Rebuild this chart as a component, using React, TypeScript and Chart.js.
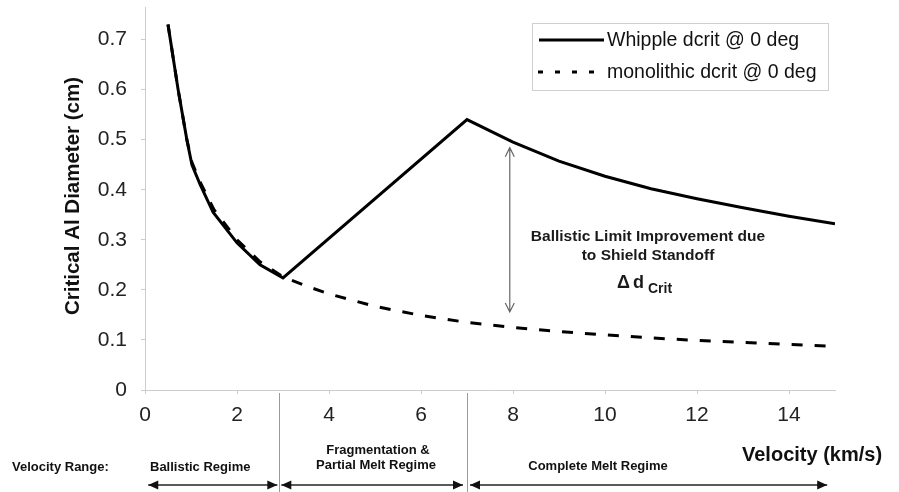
import React, { useEffect, useRef } from 'react';
import { Chart, registerables } from 'chart.js';

Chart.register(...registerables);

// Velocity (km/s) and critical Al diameter (cm)
const whippleVelocity = [0.5, 0.72, 0.91, 1.02, 1.2, 1.48, 2.0, 2.5, 3.0, 7.0, 8, 9, 10, 11, 12, 13, 14, 15];
const whippleDcrit = [0.73, 0.6, 0.5, 0.45, 0.41, 0.355, 0.294, 0.25, 0.224, 0.54, 0.495, 0.457, 0.427, 0.402, 0.382, 0.364, 0.347, 0.332];

const monoVelocity = [0.5, 0.72, 0.91, 1.02, 1.2, 1.5, 2.0, 2.5, 3.0, 3.5, 4, 5, 6, 7, 8, 9, 10, 11, 12, 13, 14, 15];
const monoDcrit = [0.73, 0.6, 0.5, 0.455, 0.415, 0.36, 0.3, 0.256, 0.226, 0.208, 0.192, 0.167, 0.149, 0.135, 0.125, 0.117, 0.11, 0.104, 0.099, 0.095, 0.091, 0.087];

const seriesLabels = ['Whipple dcrit @ 0 deg', 'monolithic dcrit @ 0 deg'];
const xTicks = [0, 2, 4, 6, 8, 10, 12, 14];
const yTicks = [0, 0.1, 0.2, 0.3, 0.4, 0.5, 0.6, 0.7];

const yTitle = 'Critical Al Diameter (cm)';
const xTitle = 'Velocity (km/s)';
const rangeLabel = 'Velocity Range:';
const regimeBounds = [0.07, 2.92, 7.0, 14.83];
const annotationLines = ['Ballistic Limit Improvement due', 'to Shield Standoff'];

const FONT = '"Liberation Sans", Arial, Helvetica, sans-serif';

export default function App() {
  const ref = useRef<HTMLCanvasElement>(null);

  useEffect(() => {
    document.body.style.margin = '0';
    const canvas = ref.current!;

    const overlay = {
      id: 'overlay',
      afterDraw(chart: any) {
        const ctx: CanvasRenderingContext2D = chart.ctx;
        const xs = chart.scales.x;
        const ys = chart.scales.y;
        const px = (v: number) => xs.getPixelForValue(v);
        const py = (v: number) => ys.getPixelForValue(v);
        ctx.save();

        // Legend
        ctx.fillStyle = '#ffffff';
        ctx.fillRect(532, 23, 296, 67);
        ctx.strokeStyle = '#cfcfcf';
        ctx.lineWidth = 1;
        ctx.strokeRect(532.5, 23.5, 296, 67);
        ctx.strokeStyle = '#000';
        ctx.lineWidth = 3;
        ctx.setLineDash([]);
        ctx.beginPath();
        ctx.moveTo(539, 40);
        ctx.lineTo(604, 40);
        ctx.stroke();
        ctx.setLineDash([5, 12]);
        ctx.beginPath();
        ctx.moveTo(538, 72);
        ctx.lineTo(604, 72);
        ctx.stroke();
        ctx.setLineDash([]);
        ctx.fillStyle = '#111';
        ctx.font = `19.5px ${FONT}`;
        ctx.textAlign = 'left';
        ctx.textBaseline = 'middle';
        ctx.fillText(seriesLabels[0], 607, 41);
        ctx.fillText(seriesLabels[1], 607, 73);

        // Y title
        ctx.save();
        ctx.translate(73, 196);
        ctx.rotate(-Math.PI / 2);
        ctx.font = `bold 20.5px ${FONT}`;
        ctx.textAlign = 'center';
        ctx.textBaseline = 'middle';
        ctx.fillStyle = '#111';
        ctx.fillText(yTitle, 0, 0);
        ctx.restore();

        // X title
        ctx.font = `bold 20px ${FONT}`;
        ctx.textAlign = 'left';
        ctx.textBaseline = 'middle';
        ctx.fillText(xTitle, 742, 455);

        // Bottom regime texts
        ctx.font = `bold 13px ${FONT}`;
        ctx.fillText(rangeLabel, 12, 467);
        ctx.fillText('Ballistic Regime', 150, 467);
        ctx.textAlign = 'center';
        ctx.fillText('Fragmentation &', 378, 450);
        ctx.fillText('Partial Melt Regime', 376, 465);
        ctx.fillText('Complete Melt Regime', 598, 466);

        // Separators
        ctx.strokeStyle = '#9a9a9a';
        ctx.lineWidth = 1;
        [regimeBounds[1], regimeBounds[2]].forEach((v) => {
          const x = Math.round(px(v)) + 0.5;
          ctx.beginPath();
          ctx.moveTo(x, 393);
          ctx.lineTo(x, 492);
          ctx.stroke();
        });

        // Bottom arrows
        const ay = 485;
        const head = (tip: number, dir: number) => {
          ctx.beginPath();
          ctx.moveTo(tip, ay);
          ctx.lineTo(tip - dir * 10, ay - 4.5);
          ctx.lineTo(tip - dir * 10, ay + 4.5);
          ctx.closePath();
          ctx.fill();
        };
        ctx.strokeStyle = '#222';
        ctx.fillStyle = '#111';
        ctx.lineWidth = 1.5;
        const segs = [
          [px(regimeBounds[0]), px(regimeBounds[1]) - 2],
          [px(regimeBounds[1]) + 2, px(regimeBounds[2]) - 4],
          [px(regimeBounds[2]) + 3, px(regimeBounds[3])],
        ];
        segs.forEach(([a, b]) => {
          ctx.beginPath();
          ctx.moveTo(a, ay);
          ctx.lineTo(b, ay);
          ctx.stroke();
          head(a, -1);
          head(b, 1);
        });

        // Annotation double arrow
        const axv = px(7.93);
        const top = py(0.484);
        const bot = py(0.156);
        ctx.strokeStyle = '#666';
        ctx.lineWidth = 1.2;
        ctx.beginPath();
        ctx.moveTo(axv, top);
        ctx.lineTo(axv, bot);
        ctx.moveTo(axv - 4.5, top + 9);
        ctx.lineTo(axv, top);
        ctx.lineTo(axv + 4.5, top + 9);
        ctx.moveTo(axv - 4.5, bot - 9);
        ctx.lineTo(axv, bot);
        ctx.lineTo(axv + 4.5, bot - 9);
        ctx.stroke();

        // Annotation text
        ctx.fillStyle = '#1a1a1a';
        ctx.font = `bold 15.5px ${FONT}`;
        ctx.textAlign = 'center';
        ctx.textBaseline = 'middle';
        ctx.fillText(annotationLines[0], 648, 237);
        ctx.fillText(annotationLines[1], 648, 256);
        ctx.textAlign = 'left';
        ctx.font = `bold 18px ${FONT}`;
        ctx.textBaseline = 'alphabetic';
        ctx.fillText('\u0394', 617, 288);
        ctx.fillText('d', 633, 288);
        ctx.font = `bold 14px ${FONT}`;
        ctx.fillText('Crit', 648, 293);

        ctx.restore();
      },
    };

    const chart = new Chart(canvas, {
      type: 'line',
      data: {
        datasets: [
          {
            label: seriesLabels[0],
            data: whippleVelocity.map((v, i) => ({ x: v, y: whippleDcrit[i] })),
            borderColor: '#000',
            borderWidth: 3,
            pointRadius: 0,
            tension: 0,
            fill: false,
          },
          {
            label: seriesLabels[1],
            data: monoVelocity.map((v, i) => ({ x: v, y: monoDcrit[i] })),
            borderColor: '#000',
            borderWidth: 3,
            borderDash: [11, 12],
            pointRadius: 0,
            tension: 0,
            fill: false,
          },
        ],
      },
      options: {
        responsive: false,
        animation: false,
        devicePixelRatio: 1,
        layout: { padding: { left: 0, right: 64, top: 7, bottom: 0 } },
        plugins: {
          legend: { display: false },
          tooltip: { enabled: false },
        },
        scales: {
          x: {
            type: 'linear',
            min: 0,
            max: 15,
            afterBuildTicks: (s: any) => {
              s.ticks = xTicks.map((v) => ({ value: v }));
            },
            ticks: {
              font: { family: FONT, size: 21 },
              color: '#222',
              padding: 9,
              maxRotation: 0,
              autoSkip: false,
            },
            grid: { display: true, drawOnChartArea: false, drawTicks: true, tickLength: 4, color: '#cccccc' },
            border: { display: true, color: '#cccccc', width: 1 },
            afterFit: (s: any) => {
              s.height = 102;
              s.paddingLeft = 0;
              s.paddingRight = 0;
              s.paddingTop = 0;
              s.paddingBottom = 0;
            },
          },
          y: {
            type: 'linear',
            min: 0,
            max: 0.765,
            afterBuildTicks: (s: any) => {
              s.ticks = yTicks.map((v) => ({ value: v }));
            },
            ticks: {
              font: { family: FONT, size: 21 },
              color: '#222',
              padding: 14,
              autoSkip: false,
              callback: (v: any) => String(Math.round(Number(v) * 10) / 10),
            },
            grid: { display: true, drawOnChartArea: false, drawTicks: true, tickLength: 4, color: '#cccccc' },
            border: { display: true, color: '#cccccc', width: 1 },
            afterFit: (s: any) => {
              s.width = 145;
              s.paddingLeft = 0;
              s.paddingRight = 0;
              s.paddingTop = 0;
              s.paddingBottom = 0;
            },
          },
        },
      },
      plugins: [overlay],
    } as any);

    return () => chart.destroy();
  }, []);

  return <canvas ref={ref} width={899} height={492} style={{ display: 'block' }} />;
}
